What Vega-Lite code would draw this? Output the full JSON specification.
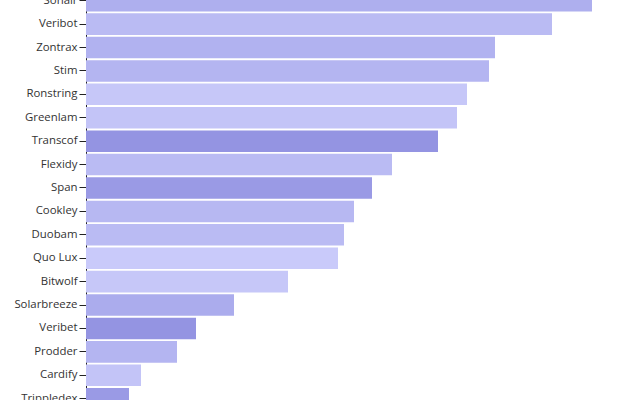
{
  "$schema": "https://vega.github.io/schema/vega-lite/v6.json",
  "autosize": "none",
  "padding": {"left": 86, "top": 0, "right": 0, "bottom": 0},
  "width": 554,
  "height": 400,
  "config": {"view": {"stroke": null}},
  "data": {
    "values": [
      {"name": "Sonair", "value": 506, "shade": 0.5},
      {"name": "Veribot", "value": 466, "shade": 0.3},
      {"name": "Zontrax", "value": 409, "shade": 0.45},
      {"name": "Stim", "value": 403, "shade": 0.4},
      {"name": "Ronstring", "value": 381, "shade": 0.1},
      {"name": "Greenlam", "value": 371, "shade": 0.15},
      {"name": "Transcof", "value": 352, "shade": 0.95},
      {"name": "Flexidy", "value": 306, "shade": 0.3},
      {"name": "Span", "value": 286, "shade": 0.85},
      {"name": "Cookley", "value": 268, "shade": 0.35},
      {"name": "Duobam", "value": 258, "shade": 0.3},
      {"name": "Quo Lux", "value": 252, "shade": 0.05},
      {"name": "Bitwolf", "value": 202, "shade": 0.1},
      {"name": "Solarbreeze", "value": 148, "shade": 0.55},
      {"name": "Veribet", "value": 110, "shade": 0.95},
      {"name": "Prodder", "value": 91, "shade": 0.4},
      {"name": "Cardify", "value": 55, "shade": 0.15},
      {"name": "Trippledex", "value": 43, "shade": 0.85}
    ]
  },
  "mark": {"type": "bar"},
  "encoding": {
    "y": {
      "field": "name",
      "type": "nominal",
      "sort": "-x",
      "scale": {"range": [-11, 410.4], "paddingInner": 0.08, "paddingOuter": 0.04},
      "axis": {
        "title": null,
        "labelFont": "Open Sans",
        "labelFontSize": 11.4,
        "labelColor": "#333333",
        "domainColor": "#222222",
        "tickColor": "#222222",
        "tickSize": 7,
        "labelPadding": 2
      }
    },
    "x": {
      "field": "value",
      "type": "quantitative",
      "scale": {"domain": [0, 554], "nice": false},
      "axis": null
    },
    "color": {
      "field": "shade",
      "type": "quantitative",
      "scale": {"domain": [0, 1], "range": ["#cccdfb", "#9191e1"]},
      "legend": null
    }
  }
}
